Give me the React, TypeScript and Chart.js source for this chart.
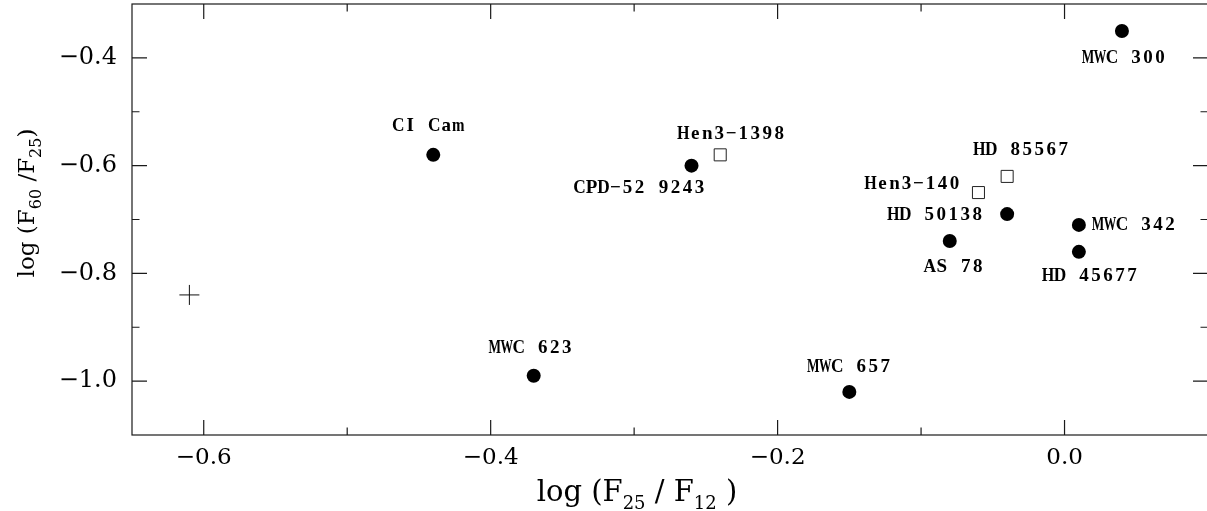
import React, { useEffect, useRef } from 'react';
import { Chart, registerables } from 'chart.js';

Chart.register(...registerables);

// ---- data ----
const circleNames = ['MWC 300', 'CI Cam', 'CPD-52 9243', 'HD 50138', 'AS 78', 'MWC 342', 'HD 45677', 'MWC 623', 'MWC 657'];
const circleX = [0.04, -0.44, -0.26, -0.04, -0.08, 0.01, 0.01, -0.37, -0.15];
const circleY = [-0.35, -0.58, -0.60, -0.69, -0.74, -0.71, -0.76, -0.99, -1.02];

const squareNames = ['Hen3-1398', 'Hen3-140', 'HD 85567'];
const squareX = [-0.24, -0.06, -0.04];
const squareY = [-0.58, -0.65, -0.62];

const crossX = [-0.61];
const crossY = [-0.84];

const xRange = [-0.65, 0.1];
const yRange = [-1.1, -0.3];
const xTickValues = [-0.6, -0.4, -0.2, 0.0];
const xTickLabels = ['−0.6', '−0.4', '−0.2', '0.0'];
const xMinorTicks = [-0.5, -0.3, -0.1];
const yTickValues = [-1.0, -0.8, -0.6, -0.4];
const yTickLabels = ['−1.0', '−0.8', '−0.6', '−0.4'];
const yMinorTicks = [-0.9, -0.7, -0.5];

// ---- label placement (style, px offsets from the point) ----
type Align = 'left' | 'center' | 'right';
const labelPlacement: Record<string, { dx: number; dy: number; align: Align }> = {
  'MWC 300': { dx: 2, dy: 27, align: 'center' },
  'CI Cam': { dx: -5, dy: -29, align: 'center' },
  'CPD-52 9243': { dx: -52, dy: 22, align: 'center' },
  'HD 50138': { dx: -24, dy: 1, align: 'right' },
  'AS 78': { dx: 4, dy: 26, align: 'center' },
  'MWC 342': { dx: 13, dy: 0, align: 'left' },
  'HD 45677': { dx: 11, dy: 24, align: 'center' },
  'MWC 623': { dx: -3, dy: -28, align: 'center' },
  'MWC 657': { dx: 0, dy: -25, align: 'center' },
  'Hen3-1398': { dx: 11, dy: -21, align: 'center' },
  'Hen3-140': { dx: -18, dy: -8, align: 'right' },
  'HD 85567': { dx: 14, dy: -26, align: 'center' },
};

const LABEL_FONT = 'bold 19px "Liberation Serif", serif';
const TICK_FONT_FAMILY = '"DejaVu Serif", serif';

function drawMono(ctx: CanvasRenderingContext2D, text: string, x: number, y: number, align: Align) {
  const cell = 12;
  const total = text.length * cell;
  const start = align === 'left' ? x : align === 'right' ? x - total : x - total / 2;
  ctx.textAlign = 'center';
  ctx.textBaseline = 'middle';
  for (let i = 0; i < text.length; i++) {
    let ch = text[i];
    if (ch === ' ') continue;
    if (ch === '-') ch = '−';
    const cx = start + cell * i + cell / 2;
    const w = ctx.measureText(ch).width;
    const maxW = 12.5;
    if (w > maxW) {
      ctx.save();
      ctx.translate(cx, y);
      ctx.scale(maxW / w, 1);
      ctx.fillText(ch, 0, 0);
      ctx.restore();
    } else {
      ctx.fillText(ch, cx, y);
    }
  }
}

type Part = { t: string; sub?: boolean };

function drawTitle(
  ctx: CanvasRenderingContext2D,
  parts: Part[],
  mainSize: number,
  subSize: number,
  subShift: number
) {
  const mainFont = `${mainSize}px ${TICK_FONT_FAMILY}`;
  const subFont = `${subSize}px ${TICK_FONT_FAMILY}`;
  let total = 0;
  const widths = parts.map((p) => {
    ctx.font = p.sub ? subFont : mainFont;
    const w = ctx.measureText(p.t).width;
    total += w;
    return w;
  });
  let x = -total / 2;
  ctx.textAlign = 'left';
  ctx.textBaseline = 'alphabetic';
  parts.forEach((p, i) => {
    ctx.font = p.sub ? subFont : mainFont;
    ctx.fillText(p.t, x, p.sub ? subShift : 0);
    x += widths[i];
  });
}

const decorPlugin = {
  id: 'decor',
  afterDraw(chart: any) {
    const ctx: CanvasRenderingContext2D = chart.ctx;
    const { left, right, top, bottom } = chart.chartArea;
    const xs = chart.scales.x;
    const ys = chart.scales.y;
    ctx.save();
    ctx.strokeStyle = '#1a1a1a';
    ctx.lineWidth = 1.2;
    ctx.strokeRect(left, top, right - left, bottom - top);

    const major = 15;
    const minor = 7.5;
    ctx.beginPath();
    const xt = (v: number, len: number) => {
      const px = xs.getPixelForValue(v);
      ctx.moveTo(px, bottom);
      ctx.lineTo(px, bottom - len);
      ctx.moveTo(px, top);
      ctx.lineTo(px, top + len);
    };
    const yt = (v: number, len: number) => {
      const py = ys.getPixelForValue(v);
      ctx.moveTo(left, py);
      ctx.lineTo(left + len, py);
      ctx.moveTo(right, py);
      ctx.lineTo(right - len, py);
    };
    xTickValues.forEach((v) => xt(v, major));
    xMinorTicks.forEach((v) => xt(v, minor));
    yTickValues.forEach((v) => yt(v, major));
    yMinorTicks.forEach((v) => yt(v, minor));
    ctx.stroke();

    // point labels
    ctx.fillStyle = '#000';
    ctx.font = LABEL_FONT;
    chart.data.datasets.forEach((ds: any, di: number) => {
      const names: string[] | undefined = ds.names;
      if (!names) return;
      const meta = chart.getDatasetMeta(di);
      meta.data.forEach((el: any, i: number) => {
        const name = names[i];
        const pl = labelPlacement[name];
        if (!pl) return;
        drawMono(ctx, name, el.x + pl.dx, el.y + pl.dy, pl.align);
      });
    });

    // x axis title
    ctx.save();
    ctx.translate(637, 501);
    drawTitle(
      ctx,
      [{ t: 'log (F' }, { t: '25', sub: true }, { t: ' / F' }, { t: '12', sub: true }, { t: ' )' }],
      29,
      18,
      8
    );
    ctx.restore();

    // y axis title
    ctx.save();
    ctx.translate(34, 203);
    ctx.rotate(-Math.PI / 2);
    drawTitle(
      ctx,
      [{ t: 'log (F' }, { t: '60', sub: true }, { t: ' /F' }, { t: '25', sub: true }, { t: ')' }],
      23,
      16,
      7
    );
    ctx.restore();

    ctx.restore();
  },
};

function zeroPad(s: any) {
  s.paddingTop = 0;
  s.paddingBottom = 0;
  s.paddingLeft = 0;
  s.paddingRight = 0;
}

export default function App() {
  const ref = useRef<HTMLCanvasElement | null>(null);

  useEffect(() => {
    if (!ref.current) return;
    const fmt = (vals: number[], labels: string[]) => (v: any) => {
      const idx = vals.findIndex((t) => Math.abs(t - Number(v)) < 1e-9);
      return idx >= 0 ? labels[idx] : '';
    };
    const chart = new Chart(ref.current, {
      type: 'scatter',
      data: {
        datasets: [
          {
            label: 'filled',
            names: circleNames,
            data: circleX.map((x, i) => ({ x, y: circleY[i] })),
            pointStyle: 'circle',
            pointRadius: 7,
            pointBackgroundColor: '#000',
            pointBorderColor: '#000',
            pointBorderWidth: 0,
          } as any,
          {
            label: 'open',
            names: squareNames,
            data: squareX.map((x, i) => ({ x, y: squareY[i] })),
            pointStyle: 'rect',
            pointRadius: 8.5,
            pointBackgroundColor: '#fff',
            pointBorderColor: '#222',
            pointBorderWidth: 1,
          } as any,
          {
            label: 'cross',
            data: crossX.map((x, i) => ({ x, y: crossY[i] })),
            pointStyle: 'cross',
            pointRadius: 10,
            pointBorderColor: '#111',
            pointBorderWidth: 1,
          } as any,
        ],
      },
      options: {
        animation: false,
        responsive: false,
        devicePixelRatio: 1,
        events: [],
        layout: { autoPadding: false, padding: { top: 4, right: 2, bottom: 0, left: 0 } },
        plugins: { legend: { display: false }, tooltip: { enabled: false } },
        scales: {
          x: {
            type: 'linear',
            position: 'bottom',
            min: xRange[0],
            max: xRange[1],
            afterBuildTicks: (s: any) => {
              s.ticks = xTickValues.map((v) => ({ value: v }));
            },
            afterFit: (s: any) => {
              s.height = 76;
              zeroPad(s);
            },
            ticks: {
              callback: fmt(xTickValues, xTickLabels),
              font: { family: TICK_FONT_FAMILY, size: 23 },
              color: '#000',
              padding: 9,
              maxRotation: 0,
              autoSkip: false,
            },
            grid: { display: false, drawTicks: false },
            border: { display: false },
          },
          y: {
            type: 'linear',
            position: 'left',
            min: yRange[0],
            max: yRange[1],
            afterBuildTicks: (s: any) => {
              s.ticks = yTickValues.map((v) => ({ value: v }));
            },
            afterFit: (s: any) => {
              s.width = 132;
              zeroPad(s);
            },
            ticks: {
              callback: fmt(yTickValues, yTickLabels),
              font: { family: TICK_FONT_FAMILY, size: 24 },
              color: '#000',
              padding: 15,
              autoSkip: false,
            },
            grid: { display: false, drawTicks: false },
            border: { display: false },
          },
        },
      } as any,
      plugins: [decorPlugin],
    });
    return () => chart.destroy();
  }, []);

  return (
    <div
      style={{
        position: 'fixed',
        left: 0,
        top: 0,
        width: 1207,
        height: 511,
        overflow: 'hidden',
        background: '#fff',
      }}
    >
      <canvas ref={ref} width={1210} height={511} style={{ display: 'block' }} />
    </div>
  );
}
